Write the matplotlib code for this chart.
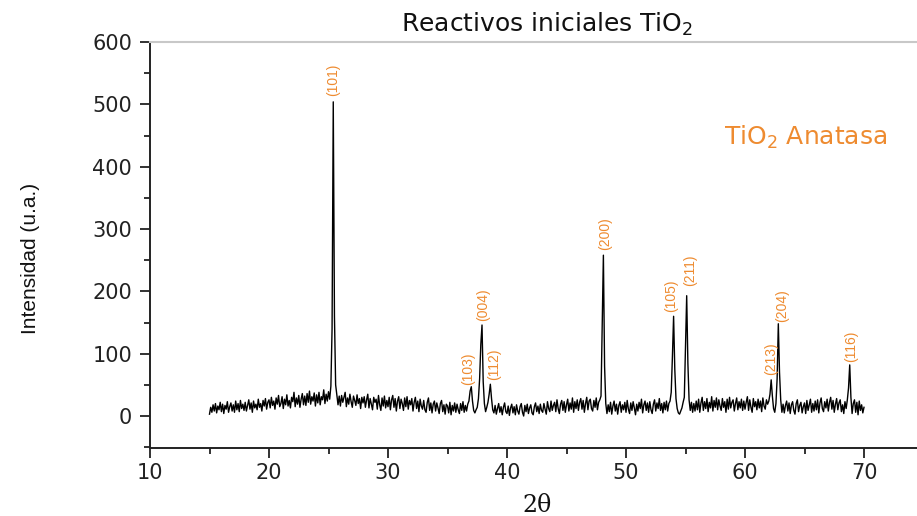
import numpy as np
import matplotlib
matplotlib.use("Agg")
import matplotlib.pyplot as plt
from matplotlib.ticker import MultipleLocator

# ---------------- data ----------------
two_theta_start = 15.0
two_theta_step = 0.1
intensity = [
    3, 14, 6, 18, 8, 20, 5, 16, 10, 22,           # 15
    7, 19, 4, 17, 11, 23, 6, 15, 21, 8,           # 16
    18, 6, 24, 10, 20, 7, 25, 12, 19, 9,          # 17
    22, 8, 17, 26, 11, 21, 6, 24, 13, 19,         # 18
    10, 27, 14, 20, 8, 25, 16, 28, 11, 22,        # 19
    26, 13, 30, 17, 24, 11, 29, 19, 33, 15,       # 20
    20, 31, 12, 27, 18, 34, 16, 25, 13, 30,       # 21
    23, 38, 15, 29, 19, 33, 14, 27, 36, 18,       # 22
    32, 17, 36, 22, 40, 19, 31, 24, 37, 16,       # 23
    34, 21, 38, 18, 31, 26, 42, 20, 35, 24,       # 24
    39, 27, 48, 140, 504, 160, 50, 34, 18, 32,    # 25
    16, 33, 22, 30, 38, 15, 29, 19, 35, 23,       # 26
    14, 32, 25, 17, 34, 20, 28, 12, 30, 21,       # 27
    31, 14, 26, 35, 13, 28, 19, 10, 30, 22,       # 28
    27, 11, 33, 18, 9, 29, 16, 32, 13, 25,        # 29
    15, 30, 10, 26, 33, 14, 28, 8, 24, 31,        # 30
    12, 27, 20, 9, 29, 15, 31, 11, 25, 18,        # 31
    28, 8, 22, 30, 12, 24, 7, 27, 16, 11,         # 32
    25, 10, 6, 22, 29, 9, 21, 5, 19, 24,          # 33
    8, 21, 13, 4, 20, 25, 7, 18, 3, 19,           # 34
    16, 5, 22, 2, 17, 8, 21, 6, 19, 10,           # 35
    4, 20, 9, 23, 6, 17, 8, 19, 24, 40,           # 36
    47, 24, 9, 5, 10, 14, 28, 60, 115, 146,       # 37
    55, 20, 7, 14, 22, 35, 51, 28, 10, 5,         # 38
    17, 3, 12, 20, 6, 15, 2, 14, 21, 7,           # 39
    4, 16, 1, 13, 19, 5, 15, 2, 18, 8,            # 40
    3, 15, 20, 6, 0, 17, 7, 19, 4, 13,            # 41
    18, 5, 2, 15, 21, 7, 16, 4, 19, 9,            # 42
    6, 20, 11, 3, 23, 12, 7, 24, 9, 17,           # 43
    22, 7, 26, 12, 4, 19, 25, 9, 23, 6,           # 44
    18, 27, 8, 21, 11, 29, 6, 23, 12, 26,         # 45
    9, 22, 28, 11, 25, 6, 20, 30, 10, 24,         # 46
    27, 12, 8, 25, 14, 29, 10, 22, 26, 32,        # 47
    150, 258, 80, 20, 4, 18, 7, 22, 3, 16,        # 48
    24, 8, 19, 3, 17, 23, 6, 18, 10, 22,          # 49
    6, 25, 11, 4, 21, 9, 23, 13, 2, 19,           # 50
    8, 22, 12, 27, 5, 18, 24, 9, 21, 6,           # 51
    23, 10, 4, 19, 26, 8, 21, 12, 28, 9,          # 52
    20, 5, 22, 10, 24, 8, 20, 24, 38, 95,         # 53
    160, 75, 28, 12, 5, 3, 8, 13, 22, 30,         # 54
    110, 193, 85, 26, 9, 22, 6, 20, 8, 24,        # 55
    10, 27, 6, 21, 30, 9, 23, 12, 28, 7,          # 56
    22, 13, 31, 8, 25, 14, 29, 10, 26, 16,        # 57
    9, 28, 14, 23, 6, 27, 11, 30, 13, 22,         # 58
    26, 8, 20, 29, 10, 23, 13, 27, 9, 24,         # 59
    11, 22, 31, 9, 26, 14, 6, 28, 15, 23,         # 60
    10, 27, 13, 24, 7, 29, 16, 11, 26, 19,        # 61
    24, 35, 58, 32, 12, 6, 20, 60, 148, 70,       # 62
    26, 6, 19, 5, 17, 24, 8, 21, 4, 18,           # 63
    23, 9, 3, 20, 26, 7, 17, 22, 5, 15,           # 64
    21, 4, 25, 9, 18, 27, 6, 20, 8, 24,           # 65
    10, 26, 5, 21, 29, 12, 7, 23, 13, 27,         # 66
    8, 22, 30, 11, 25, 6, 19, 28, 10, 21,         # 67
    26, 7, 18, 4, 23, 12, 26, 45, 82, 30,         # 68
    4, 20, 26, 6, 22, 2, 24, 9, 18, 5,            # 69
    14,                                           # 70
]

peak_hkl = ["(101)", "(103)", "(004)", "(112)", "(200)",
            "(105)", "(211)", "(213)", "(204)", "(116)"]
peak_pos = [25.4, 37.0, 37.9, 38.6, 48.1, 54.0, 55.1, 62.2, 62.8, 68.8]
peak_height = [504, 47, 146, 51, 258, 160, 193, 58, 148, 82]
# label offsets from the peak apex, in pixels (dx, dy)
label_dx = [0, -3, 1, 4, 2, -2, 3, 0, 4, 1]
label_dy = [6, 2, 4, 4, 5, 4, 10, 5, 2, 3]

title_text = "Reactivos iniciales TiO$_\\mathregular{2}$"
phase_text = "TiO$_\\mathregular{2}$ Anatasa"
xlabel_text = "2\u03b8"
ylabel_text = "Intensidad (u.a.)"

# ---------------- plot ----------------
orange = "#EE8B30"
W, H = 917, 516
fig = plt.figure(figsize=(W / 100, H / 100), dpi=100)
ax_left, ax_right, ax_top, ax_bottom = 150, 917, 42, 448
ax = fig.add_axes([ax_left / W, 1 - ax_bottom / H,
                   (ax_right - ax_left) / W, (ax_bottom - ax_top) / H])

x = two_theta_start + two_theta_step * np.arange(len(intensity))
ax.plot(x, intensity, color="black", lw=1.0)

ax.set_xlim(10, 10 + (ax_right - ax_left) / 11.9)
ax.set_ylim(-51.3, 600)

ax.xaxis.set_major_locator(MultipleLocator(10))
ax.xaxis.set_minor_locator(MultipleLocator(5))
ax.yaxis.set_major_locator(MultipleLocator(100))
ax.yaxis.set_minor_locator(MultipleLocator(50))

ax.spines["right"].set_visible(False)
ax.spines["top"].set_color("#c8c8c8")
ax.spines["top"].set_linewidth(1.5)
for s in ("left", "bottom"):
    ax.spines[s].set_linewidth(1.4)
    ax.spines[s].set_color("#222222")

ax.tick_params(which="major", direction="out", length=7, width=1.3,
               color="#222222", labelsize=15)
ax.tick_params(which="minor", direction="out", length=4, width=1.3,
               color="#222222")
ax.tick_params(axis="y", which="major", pad=6)
ax.tick_params(axis="x", which="major", pad=4)
ax.tick_params(top=False, right=False, which="both")
for lab in ax.get_xticklabels() + ax.get_yticklabels():
    lab.set_fontfamily("DejaVu Sans")
    lab.set_color("#222222")

for hkl, px, py, dx, dy in zip(peak_hkl, peak_pos, peak_height, label_dx, label_dy):
    ax.annotate(hkl, xy=(px, py), xytext=(dx, dy), textcoords="offset pixels",
                rotation=90, ha="center", va="bottom", color=orange,
                fontsize=10, family="Liberation Sans")

fig.text(547 / W, 1 - 24 / H, title_text, ha="center", va="center",
         fontsize=18, family="DejaVu Sans", color="#111111")
fig.text(806 / W, 1 - 137 / H, phase_text, ha="center", va="center",
         fontsize=18, family="DejaVu Sans", color=orange)
fig.text(537 / W, 1 - 505 / H, xlabel_text, ha="center", va="center",
         fontsize=17, family="DejaVu Serif", color="#111111")
fig.text(30 / W, 1 - 258 / H, ylabel_text, ha="center", va="center",
         rotation=90, fontsize=15, family="Liberation Sans", color="#111111")

fig.savefig("out.png", dpi=100)
